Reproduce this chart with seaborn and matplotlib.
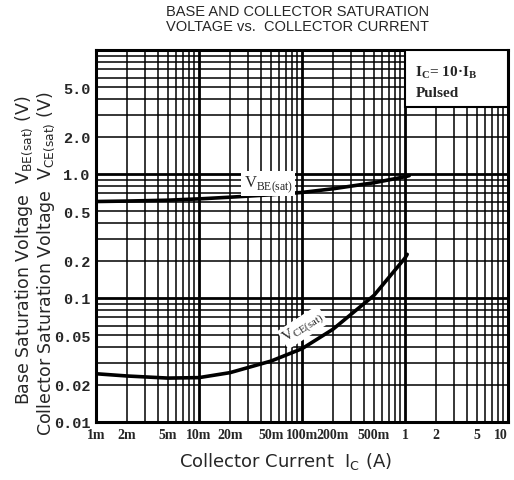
import numpy as np
import pandas as pd
import matplotlib
matplotlib.use("Agg")
import matplotlib.pyplot as plt
from matplotlib.patches import Rectangle
import seaborn as sns

# Data
ic_vbe = [0.001, 0.002, 0.005, 0.01, 0.02, 0.05, 0.1, 0.2, 0.5, 1.0, 1.1]
vbe = [0.60, 0.605, 0.615, 0.63, 0.65, 0.68, 0.71, 0.76, 0.85, 0.95, 0.97]
ic_vce = [0.001, 0.002, 0.005, 0.01, 0.02, 0.05, 0.1, 0.2, 0.5, 1.0, 1.05]
vce = [0.0245, 0.0235, 0.0226, 0.0228, 0.025, 0.031, 0.039, 0.056, 0.105, 0.21, 0.225]

xticks = [0.001, 0.002, 0.005, 0.01, 0.02, 0.05, 0.1, 0.2, 0.5, 1, 2, 5, 10]
xticklabels = ["1m", "2m", "5m", "10m", "20m", "50m", "100m", "200m", "500m", "1", "2", "5", "10"]
yticks = [0.01, 0.02, 0.05, 0.1, 0.2, 0.5, 1.0, 2.0, 5.0]
yticklabels = ["0.01", "0.02", "0.05", "0.1", "0.2", "0.5", "1.0", "2.0", "5.0"]

sns.set_style("white")
plt.rcParams['font.family'] = ['DejaVu Sans']

W, H = 514, 481
fig = plt.figure(figsize=(W/100, H/100), dpi=100)
ax = fig.add_axes([96/W, 1-423/H, (508-96)/W, (423-51)/H])
ax.set_xscale("log")
ax.set_yscale("log")
ax.set_xlim(0.001, 10)
ax.set_ylim(0.01, 10)

# grid
for dec in [0.001, 0.01, 0.1, 1]:
    for m in range(1, 10):
        x = dec * m
        if 0.001 < x < 10:
            ax.axvline(x, color="black", lw=2.0 if m == 1 else 1.1, zorder=1)
for dec in [0.01, 0.1, 1]:
    for m in range(1, 10):
        y = dec * m
        if 0.01 < y < 10:
            ax.axhline(y, color="black", lw=2.0 if m == 1 else 1.1, zorder=1)

df1 = pd.DataFrame({"Ic": ic_vbe, "V": vbe})
df2 = pd.DataFrame({"Ic": ic_vce, "V": vce})
sns.lineplot(data=df1, x="Ic", y="V", ax=ax, color="black", lw=2.6, zorder=5)
sns.lineplot(data=df2, x="Ic", y="V", ax=ax, color="black", lw=2.6, zorder=5)

for s in ax.spines.values():
    s.set_linewidth(2.2)
    s.set_color("black")

ax.set_xticks(xticks)
ax.set_xticklabels(xticklabels, fontfamily="Liberation Serif", fontsize=10, fontweight="bold")
ax.get_xticklabels()[-1].set_horizontalalignment("right")
ax.set_yticks(yticks)
ax.set_yticklabels(yticklabels, fontfamily="Liberation Mono", fontsize=11, fontweight="bold")
ax.minorticks_off()
ax.tick_params(length=0, pad=4)
ax.set_xlabel("")
ax.set_ylabel("")

fig.text(285/W, 1-462/H, "Collector Current  I$_\\mathregular{C}$ (A)", fontsize=13,
         ha="center", va="center")
fig.text(24/W, 1-250/H, "Base Saturation Voltage  V$_\\mathregular{BE(sat)}$ (V)", fontsize=12.5,
         ha="center", va="center", rotation=90)
fig.text(46/W, 1-264/H, "Collector Saturation Voltage  V$_\\mathregular{CE(sat)}$ (V)", fontsize=12.5,
         ha="center", va="center", rotation=90)

fig.text(0.578, 0.99, "BASE AND COLLECTOR SATURATION\nVOLTAGE vs.  COLLECTOR CURRENT",
         ha="center", va="top", fontsize=10.5, linespacing=1.15,
         fontfamily=["Liberation Sans", "DejaVu Sans"])

# annotation box
ax.add_patch(Rectangle((0.75, 0.847), 0.25, 0.153, transform=ax.transAxes,
                       fc="white", ec="black", lw=1.5, zorder=9))
ax.text(0.775, 0.965, "I$_\\mathregular{C}$= 10·I$_\\mathregular{B}$\nPulsed", transform=ax.transAxes,
        ha="left", va="top", fontsize=11, fontfamily="Liberation Serif", fontweight="bold",
        linespacing=1.6, zorder=10)

ax.text(0.047, 0.84, "V$_\\mathregular{BE(sat)}$", fontsize=12, fontfamily="Liberation Serif",
        ha="center", va="center", bbox=dict(boxstyle="square,pad=0.15", fc="white", ec="none"), zorder=8)
ax.text(0.102, 0.058, "V$_\\mathregular{CE(sat)}$", fontsize=11, fontfamily="Liberation Serif",
        ha="center", va="center", rotation=33,
        bbox=dict(boxstyle="square,pad=0.1", fc="white", ec="none"), zorder=8)

fig.savefig("out.png", dpi=100)
